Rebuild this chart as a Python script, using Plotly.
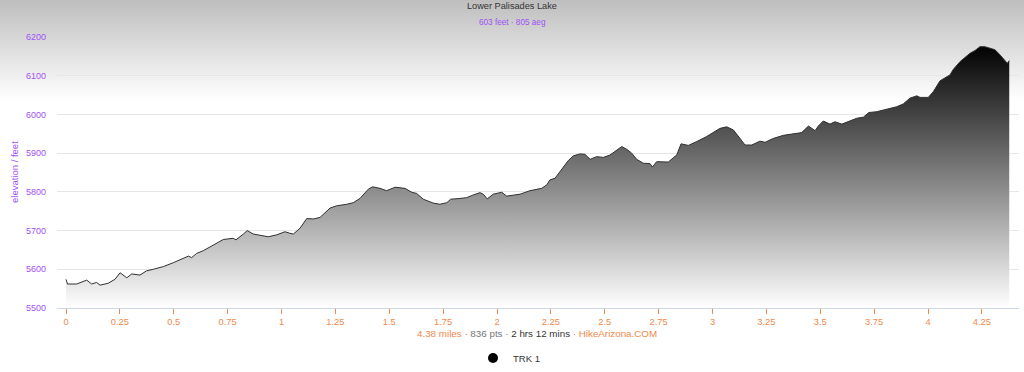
import plotly.graph_objects as go

# ---- data ----
miles = [0.000, 0.007, 0.050, 0.096, 0.119, 0.142, 0.158, 0.196, 0.227, 0.251, 0.282, 0.305, 0.343,
         0.374, 0.405, 0.452, 0.498, 0.537, 0.568, 0.583, 0.606, 0.637, 0.691, 0.730, 0.776, 0.789,
         0.823, 0.841, 0.869, 0.900, 0.939, 0.978, 1.016, 1.039, 1.055, 1.086, 1.117, 1.148, 1.179,
         1.225, 1.256, 1.303, 1.333, 1.364, 1.403, 1.423, 1.457, 1.488, 1.527, 1.573, 1.604, 1.627,
         1.658, 1.704, 1.735, 1.767, 1.785, 1.828, 1.859, 1.890, 1.921, 1.936, 1.955, 1.983, 2.022,
         2.045, 2.107, 2.153, 2.207, 2.231, 2.246, 2.269, 2.308, 2.331, 2.354, 2.385, 2.408, 2.432,
         2.463, 2.493, 2.524, 2.548, 2.579, 2.602, 2.625, 2.648, 2.679, 2.710, 2.721, 2.741, 2.772,
         2.795, 2.818, 2.834, 2.854, 2.888, 2.927, 2.973, 3.035, 3.066, 3.097, 3.128, 3.151, 3.182,
         3.220, 3.244, 3.282, 3.329, 3.375, 3.414, 3.445, 3.476, 3.491, 3.514, 3.545, 3.568, 3.600,
         3.638, 3.669, 3.700, 3.726, 3.762, 3.808, 3.855, 3.885, 3.916, 3.948, 3.963, 4.001, 4.025,
         4.056, 4.102, 4.117, 4.148, 4.195, 4.218, 4.241, 4.264, 4.288, 4.311, 4.334, 4.357, 4.368,
         4.377]
elevation = [5574, 5562, 5562, 5572, 5562, 5566, 5559, 5564, 5574, 5591, 5578, 5588, 5585,
             5596, 5600, 5607, 5617, 5626, 5634, 5630, 5641, 5648, 5665, 5677, 5680, 5676,
             5691, 5700, 5691, 5687, 5684, 5689, 5697, 5693, 5691, 5706, 5731, 5730, 5734,
             5758, 5764, 5768, 5772, 5783, 5807, 5813, 5809, 5803, 5812, 5809, 5799, 5796,
             5781, 5771, 5768, 5772, 5781, 5783, 5785, 5792, 5798, 5794, 5782, 5794, 5799,
             5789, 5794, 5803, 5809, 5818, 5831, 5835, 5865, 5881, 5893, 5898, 5897, 5884,
             5891, 5889, 5895, 5904, 5917, 5910, 5900, 5884, 5874, 5873, 5864, 5878, 5878,
             5877, 5888, 5895, 5924, 5920, 5930, 5943, 5964, 5968, 5960, 5938, 5921, 5921,
             5931, 5928, 5938, 5946, 5950, 5953, 5970, 5958, 5970, 5983, 5975, 5981, 5975,
             5983, 5990, 5993, 6005, 6007, 6014, 6020, 6027, 6042, 6048, 6044, 6044, 6059,
             6087, 6102, 6116, 6136, 6158, 6165, 6175, 6175, 6171, 6167, 6154, 6139, 6132,
             6139]
x_tick_vals = [0, 0.25, 0.5, 0.75, 1, 1.25, 1.5, 1.75, 2, 2.25, 2.5, 2.75, 3, 3.25, 3.5, 3.75, 4, 4.25]
x_tick_text = ["0", "0.25", "0.5", "0.75", "1", "1.25", "1.5", "1.75", "2", "2.25", "2.5", "2.75",
               "3", "3.25", "3.5", "3.75", "4", "4.25"]
y_tick_vals = [5500, 5600, 5700, 5800, 5900, 6000, 6100, 6200]
series_name = "TRK 1"
chart_title = "Lower Palisades Lake"
chart_subtitle = "603 feet · 805 aeg"

# ---- layout geometry ----
W, H = 1024, 372
ML, MR, MT, MB = 57, 5, 37, 64
PW = W - ML - MR
PH = H - MT - MB
PURPLE = "#a052f5"
ORANGE = "#f0894a"
FONT = "Liberation Sans, Arial, sans-serif"


def px_to_paper_x(px):
    return (px - ML) / PW


def px_to_paper_y(py):
    return (H - MB - py) / PH


fig = go.Figure()

fig.add_trace(go.Scatter(
    x=miles, y=elevation, mode="lines",
    line=dict(color="#303030", width=1),
    fill="tozeroy",
    fillgradient=dict(type="vertical", colorscale=[[0, "#ffffff"], [1, "#000000"]],
                      start=5500, stop=6180),
    showlegend=False, hoverinfo="x+y",
))

fig.add_trace(go.Scatter(
    x=[None], y=[None], mode="markers", name=series_name,
    marker=dict(color="#000000", size=10, symbol="circle"),
))

# background gradient (gray at top fading to white)
shapes = []
step = 2
for top in range(0, 100, step):
    g = int(round(190 + (255 - 190) * (top + step / 2) / 100))
    shapes.append(dict(
        type="rect", xref="paper", yref="paper", layer="below",
        x0=px_to_paper_x(0), x1=px_to_paper_x(W),
        y0=px_to_paper_y(top + step), y1=px_to_paper_y(top),
        fillcolor=f"rgb({g},{g},{g})", line=dict(width=0),
    ))

x_title = (f"<span style='color:{ORANGE}'>4.38 miles</span>"
           f"<span style='color:#777'> · 836 pts · </span>"
           f"<span style='color:#333'>2 hrs 12 mins</span>"
           f"<span style='color:{ORANGE}'> · HikeArizona.COM</span>")

annotations = [
    dict(text=chart_title, xref="paper", yref="paper", x=px_to_paper_x(512), y=px_to_paper_y(6),
         showarrow=False, font=dict(family=FONT, size=9.2, color="#333333"), xanchor="center", yanchor="middle"),
    dict(text=chart_subtitle, xref="paper", yref="paper", x=px_to_paper_x(512), y=px_to_paper_y(22.5),
         showarrow=False, font=dict(family=FONT, size=8.2, color=PURPLE), xanchor="center", yanchor="middle"),
    dict(text=x_title, xref="paper", yref="paper", x=px_to_paper_x(537), y=px_to_paper_y(333),
         showarrow=False, font=dict(family=FONT, size=9.8, color=ORANGE), xanchor="center", yanchor="middle"),
    dict(text="elevation / feet", xref="paper", yref="paper", x=px_to_paper_x(14), y=px_to_paper_y(172),
         showarrow=False, textangle=-90, font=dict(family=FONT, size=9.5, color=PURPLE),
         xanchor="center", yanchor="middle"),
]

x_left = 0 - (66 - ML) / 215.5
x_right = (W - MR - 66) / 215.5

fig.update_layout(
    width=W, height=H,
    margin=dict(l=ML, r=MR, t=MT, b=MB, pad=0, autoexpand=False),
    paper_bgcolor="#ffffff",
    plot_bgcolor="rgba(0,0,0,0)",
    font=dict(family=FONT, color="#333333"),
    shapes=shapes,
    annotations=annotations,
    legend=dict(orientation="h", x=px_to_paper_x(509), xanchor="center",
                y=px_to_paper_y(358), yanchor="middle", itemwidth=30,
                font=dict(family=FONT, size=9.5, color="#333333"),
                bgcolor="rgba(0,0,0,0)"),
    xaxis=dict(range=[x_left, x_right], tickvals=x_tick_vals, ticktext=x_tick_text,
               showgrid=False, zeroline=False, showline=True, linecolor="#ccd6eb", linewidth=1,
               ticks="outside", ticklen=5, tickcolor=ORANGE, tickwidth=1,
               tickfont=dict(family=FONT, size=9.3, color=ORANGE)),
    yaxis=dict(range=[5500, 6200], tickvals=y_tick_vals, showgrid=True, gridcolor="#e6e6e6",
               gridwidth=1, zeroline=False, showline=False, ticks="",
               ticklabelstandoff=10,
               tickfont=dict(family=FONT, size=9, color=PURPLE)),
)

fig.write_html("out.html")
